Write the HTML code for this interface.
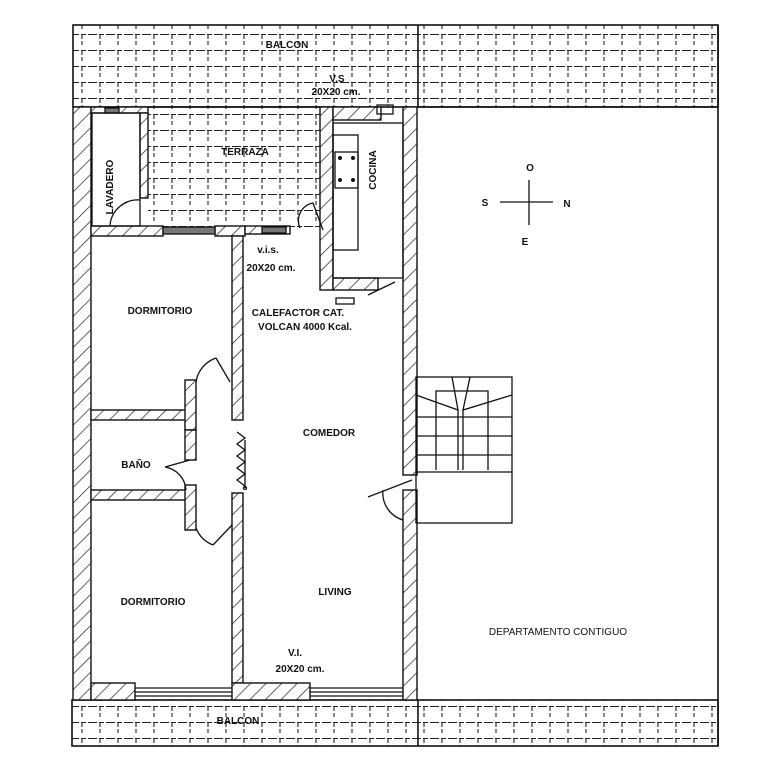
<!DOCTYPE html>
<html><head><meta charset="utf-8"><style>
html,body{margin:0;padding:0;background:#fff}
svg{display:block}
text{font-family:"Liberation Sans",sans-serif;font-size:10px;fill:#111;font-weight:bold}
</style></head><body>
<svg width="780" height="780" viewBox="0 0 780 780" xmlns="http://www.w3.org/2000/svg">
<defs>
<pattern id="tile" width="18" height="16" patternUnits="userSpaceOnUse" x="2" y="3">
<path d="M0 15.5 H18" stroke="#222" stroke-width="1.1" stroke-dasharray="5 2"/>
<path d="M8 0 V10" stroke="#222" stroke-width="1.1" stroke-dasharray="4 2"/>
</pattern>
<pattern id="hatch" width="11" height="11" patternUnits="userSpaceOnUse" patternTransform="rotate(45)">
<rect width="11" height="11" fill="#fff"/>
<path d="M0 0 V11" stroke="#222" stroke-width="1.4"/>
</pattern>
</defs>
<g fill="none" stroke="#111" stroke-width="1.6">
<rect x="73" y="25" width="645" height="82" fill="url(#tile)"/>
<line x1="418" y1="25" x2="418" y2="107"/>
<rect x="148" y="107" width="172" height="120" fill="url(#tile)" stroke="none"/>
<line x1="148" y1="107" x2="320" y2="107"/>
<rect x="72" y="700" width="646" height="46" fill="url(#tile)"/>
<line x1="418" y1="700" x2="418" y2="746"/>
<line x1="718" y1="25" x2="718" y2="746"/>
<line x1="418" y1="107" x2="718" y2="107"/>
</g>
<g fill="url(#hatch)" stroke="#111" stroke-width="1.4">
<rect x="73" y="107" width="18" height="593"/>
<rect x="91" y="107" width="57" height="6"/>
<rect x="140" y="113" width="8" height="85"/>
<rect x="91" y="226" width="72" height="10"/>
<rect x="215" y="226" width="30" height="10"/>
<rect x="245" y="226" width="45" height="8"/>
<rect x="320" y="107" width="13" height="183"/>
<rect x="333" y="107" width="48" height="13"/>
<rect x="333" y="278" width="45" height="12"/>
<rect x="403" y="107" width="14" height="368"/>
<rect x="403" y="490" width="14" height="210"/>
<rect x="232" y="236" width="11" height="184"/>
<rect x="232" y="493" width="11" height="190"/>
<rect x="91" y="410" width="95" height="10"/>
<rect x="185" y="380" width="11" height="50"/>
<rect x="91" y="490" width="95" height="10"/>
<rect x="185" y="485" width="11" height="45"/>
<rect x="185" y="430" width="11" height="30"/>
<rect x="91" y="683" width="44" height="17"/>
<rect x="232" y="683" width="78" height="17"/>
</g>
<g fill="none" stroke="#111" stroke-width="1.3">
<rect x="163" y="227" width="52" height="7" fill="#777"/>
<rect x="262" y="227" width="24" height="6" fill="#777"/>
<path d="M135 688 H232 M135 692 H232 M135 696 H232"/>
<path d="M310 688 H403 M310 692 H403 M310 696 H403"/>
<rect x="105" y="108" width="14" height="5" fill="#777"/>
<rect x="377" y="105" width="16" height="9"/>
<rect x="92" y="113" width="48" height="113"/>
<rect x="333" y="123" width="70" height="155"/>
<rect x="333" y="135" width="25" height="115"/>
<rect x="335" y="152" width="23" height="36"/>
<rect x="336" y="298" width="18" height="6"/>
<path d="M300 228 A18 18 0 0 1 313 203 L323 230"/>
<path d="M110 225 A28 28 0 0 1 140 200"/>
<path d="M216 358 A30 30 0 0 0 196 382 M216 358 L230 382"/>
<path d="M165 467 A25 25 0 0 1 186 490 M165 467 L190 460"/>
<path d="M213 545 A30 30 0 0 1 196 528 M213 545 L232 525"/>
<path d="M383 490 A28 28 0 0 0 403 520 M368 497 L412 480"/>
<path d="M237 432 l8 6 -8 6 8 6 -8 6 8 6 -8 6 8 6 -8 6 8 6 M245 440 V488"/>
<circle cx="245" cy="488" r="1.5"/>
<path d="M368 295 L395 282"/>
<rect x="416" y="377" width="96" height="146"/>
<path d="M416 472 H512"/>
<path d="M436 470 V391 H488 V470"/>
<path d="M458 470 V410 M463 470 V410"/>
<path d="M416 417 H512 M416 436 H512 M416 455 H512"/>
<path d="M416 395 L458 410 L452 377 M512 395 L463 410 L470 377"/>
<path d="M500 202 H553 M529 180 V225"/>
</g>
<g fill="#111">
<circle cx="340" cy="158" r="2"/><circle cx="353" cy="158" r="2"/>
<circle cx="340" cy="180" r="2"/><circle cx="353" cy="180" r="2"/>
</g>
<text x="287" y="48" text-anchor="middle" font-size="9">BALCON</text>
<text x="337" y="82" text-anchor="middle" font-size="9">V.S</text>
<text x="336" y="95" text-anchor="middle" font-size="9">20X20 cm.</text>
<text x="245" y="155" text-anchor="middle" font-size="9">TERRAZA</text>
<text transform="translate(113,187) rotate(-90)" text-anchor="middle" font-size="9">LAVADERO</text>
<text transform="translate(376,170) rotate(-90)" text-anchor="middle" font-size="9">COCINA</text>
<text x="268" y="253" text-anchor="middle" font-size="9">v.i.s.</text>
<text x="271" y="271" text-anchor="middle" font-size="9">20X20 cm.</text>
<text x="160" y="314" text-anchor="middle" font-size="9">DORMITORIO</text>
<text x="298" y="316" text-anchor="middle" font-size="9">CALEFACTOR CAT.</text>
<text x="305" y="330" text-anchor="middle" font-size="9">VOLCAN 4000 Kcal.</text>
<text x="329" y="436" text-anchor="middle" font-size="9">COMEDOR</text>
<text x="136" y="468" text-anchor="middle" font-size="9">BAÑO</text>
<text x="153" y="605" text-anchor="middle" font-size="9">DORMITORIO</text>
<text x="335" y="595" text-anchor="middle" font-size="9">LIVING</text>
<text x="295" y="656" text-anchor="middle" font-size="9">V.I.</text>
<text x="300" y="672" text-anchor="middle" font-size="9">20X20 cm.</text>
<text x="558" y="635" text-anchor="middle" font-size="12" style="font-weight:normal">DEPARTAMENTO CONTIGUO</text>
<text x="238" y="724" text-anchor="middle" font-size="9">BALCON</text>
<text x="530" y="171" text-anchor="middle" font-size="11">O</text>
<text x="485" y="206" text-anchor="middle" font-size="11">S</text>
<text x="567" y="207" text-anchor="middle" font-size="11">N</text>
<text x="525" y="245" text-anchor="middle" font-size="11">E</text>
</svg>
</body></html>
